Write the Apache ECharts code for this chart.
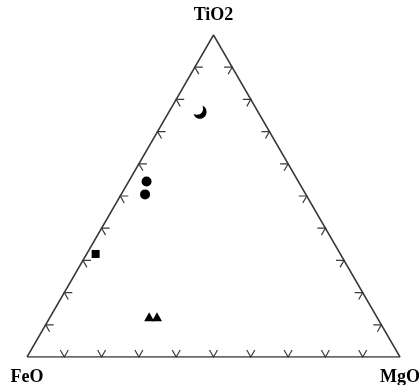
<!DOCTYPE html>
<html>
<head>
<meta charset="utf-8">
<script src="https://cdn.jsdelivr.net/npm/echarts@6/dist/echarts.min.js"></script>
<style>
  html, body { margin: 0; padding: 0; background: #fff; }
  #chart { width: 419px; height: 385px; }
</style>
</head>
<body>
<div id="chart"></div>
<script>
// compositions in percent: [FeO, MgO, TiO2]
const apexNames = ['FeO', 'MgO', 'TiO2'];
const crescentData = [[15.6, 8.4, 76.0]];
const circleData = [[40.7, 4.8, 54.5], [43.1, 6.4, 50.5]];
const squareData = [[65.6, 2.4, 32.0]];
const triangleData = [[61.0, 26.5, 12.5], [58.9, 28.6, 12.5]];
const tickFractions = [0.1, 0.2, 0.3, 0.4, 0.5, 0.6, 0.7, 0.8, 0.9];

const H = Math.sqrt(3) / 2;

// ternary -> cartesian (FeO bottom-left, MgO bottom-right, TiO2 top)
function toXY(c) {
  const s = c[0] + c[1] + c[2];
  const m = c[1] / s, t = c[2] / s;
  return [m + t / 2, t * H];
}

const corners = [[0, 0], [1, 0], [0.5, H]];

// ticks along each edge, with edge index for the chevron direction
const tickData = [];
tickFractions.forEach(f => {
  tickData.push([f, 0, 0]);                 // base FeO-MgO
  tickData.push([f / 2, f * H, 1]);         // left FeO-TiO2
  tickData.push([1 - f / 2, f * H, 2]);     // right MgO-TiO2
});

// inward normals in screen space
const normals = [[0, -1], [Math.cos(Math.PI / 6), Math.sin(Math.PI / 6)], [-Math.cos(Math.PI / 6), Math.sin(Math.PI / 6)]];

function renderTick(params, api) {
  const p = api.coord([api.value(0), api.value(1)]);
  const n = normals[api.value(2)];
  const len = 8, a = Math.PI / 6;
  const rot = (v, ang) => [v[0] * Math.cos(ang) - v[1] * Math.sin(ang), v[0] * Math.sin(ang) + v[1] * Math.cos(ang)];
  const a1 = rot(n, a), a2 = rot(n, -a);
  return {
    type: 'polyline',
    shape: { points: [[p[0] + a1[0] * len, p[1] + a1[1] * len], p, [p[0] + a2[0] * len, p[1] + a2[1] * len]] },
    style: { stroke: '#3a3a3a', lineWidth: 1.2, fill: null }
  };
}

const crescentPath = 'path://M7,0 C12,2 11,11 5,11 C3,11 1,10 0,7 C4,9 9,6 7,0 Z';
const markStyle = { color: '#000', opacity: 1 };

const chart = echarts.init(document.getElementById('chart'));
chart.setOption({
  animation: false,
  backgroundColor: '#fff',
  grid: { left: 27, top: 35, width: 373, height: 322 },
  xAxis: { type: 'value', min: 0, max: 1, show: false },
  yAxis: { type: 'value', min: 0, max: H, show: false },
  series: [
    {
      type: 'line',
      data: [corners[0], corners[1], corners[2], corners[0]],
      symbol: 'none',
      lineStyle: { color: '#3a3a3a', width: 1.5 },
      z: 1
    },
    {
      type: 'custom',
      data: tickData,
      renderItem: renderTick,
      z: 2
    },
    {
      type: 'scatter',
      data: corners.map((c, i) => ({ value: c, name: apexNames[i] })),
      symbolSize: 0,
      itemStyle: { opacity: 1 },
      label: {
        show: true,
        formatter: '{b}',
        fontFamily: 'Liberation Serif',
        fontWeight: 'bold',
        fontSize: 18,
        color: '#000',
        position: 'bottom',
        distance: 11
      },
      labelLayout: function (p) {
        return p.dataIndex === 2 ? { dy: -40 } : {};
      }
    },
    {
      type: 'scatter',
      data: crescentData.map(toXY),
      symbol: crescentPath,
      symbolSize: [13, 13],
      itemStyle: markStyle,
      z: 3
    },
    {
      type: 'scatter',
      data: circleData.map(toXY),
      symbol: 'circle',
      symbolSize: 10,
      itemStyle: markStyle,
      z: 3
    },
    {
      type: 'scatter',
      data: squareData.map(toXY),
      symbol: 'rect',
      symbolSize: 8,
      itemStyle: markStyle,
      z: 3
    },
    {
      type: 'scatter',
      data: triangleData.map(toXY),
      symbol: 'triangle',
      symbolSize: [10, 9],
      itemStyle: markStyle,
      z: 3
    }
  ]
});
</script>
</body>
</html>
